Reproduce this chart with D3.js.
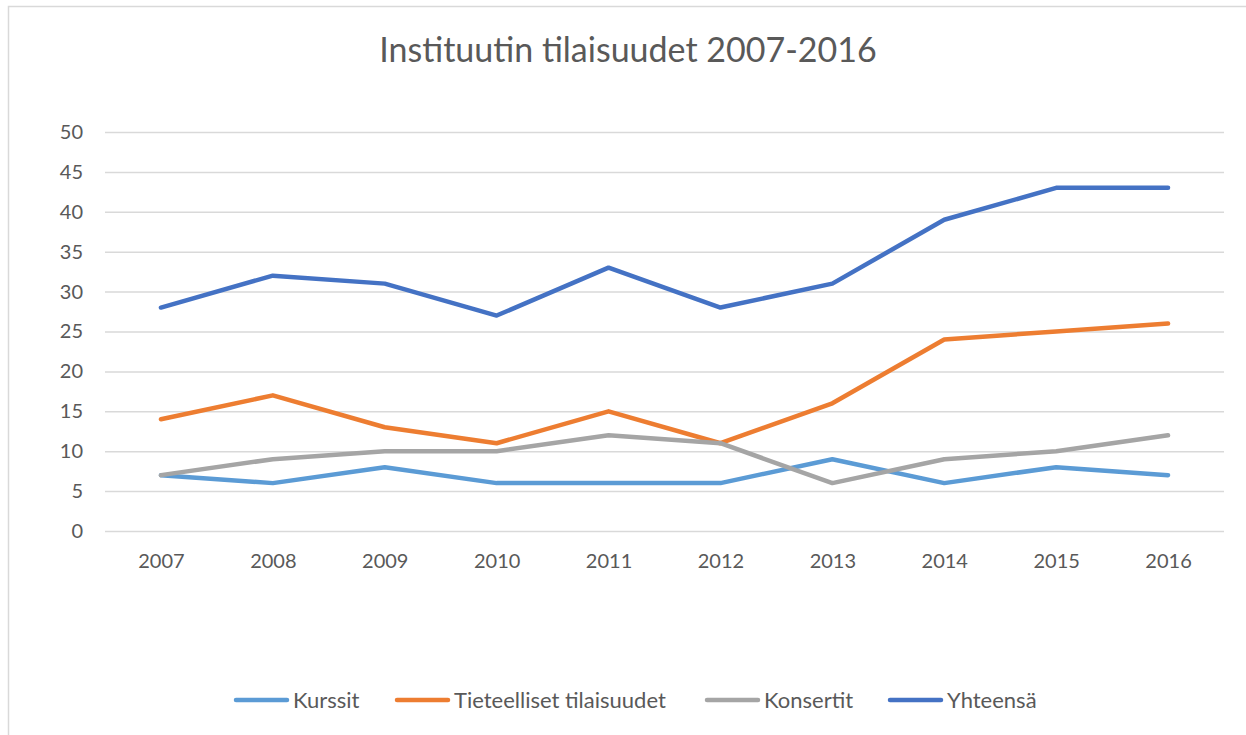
<!DOCTYPE html>
<html><head><meta charset="utf-8">
<script src="https://cdn.jsdelivr.net/npm/d3@7"></script>
<style>body{margin:0;background:#fff}svg{display:block}text{font-family:Lato,"Open Sans",sans-serif;fill:#595959}</style>
</head><body>
<script>
const years = ["2007","2008","2009","2010","2011","2012","2013","2014","2015","2016"];
const kurssit = [7,6,8,6,6,6,9,6,8,7];
const tieteelliset = [14,17,13,11,15,11,16,24,25,26];
const konsertit = [7,9,10,10,12,11,6,9,10,12];
const yhteensa = [28,32,31,27,33,28,31,39,43,43];
const yTicks = [0,5,10,15,20,25,30,35,40,45,50];
const seriesNames = ["Kurssit","Tieteelliset tilaisuudet","Konsertit","Yhteensä"];
const seriesColors = ["#5B9BD5","#ED7D31","#A5A5A5","#4472C4"];
const title = "Instituutin tilaisuudet 2007-2016";

const series = [kurssit, tieteelliset, konsertit, yhteensa].map((v,i)=>({name:seriesNames[i], color:seriesColors[i], values:v}));

const W=1246,H=735;
const svg=d3.select("body").append("svg").attr("width",W).attr("height",H);
svg.append("rect").attr("x",8.5).attr("y",6.5).attr("width",W+10).attr("height",H+10).attr("fill","#fff").attr("stroke","#d9d9d9").attr("stroke-width",1.5);

const x=d3.scalePoint().domain(years).range([105,1224]).padding(0.5);
const y=d3.scaleLinear().domain([0,50]).range([531,132]);

svg.append("text").attr("x",628).attr("y",62).attr("text-anchor","middle").style("font-size","34px").text(title);

const gy=svg.append("g").attr("transform","translate(105,0)")
 .call(d3.axisLeft(y).tickValues(yTicks).tickSize(-1119).tickPadding(22));
gy.select(".domain").remove();
gy.selectAll(".tick line").attr("stroke","#d9d9d9").attr("stroke-width",1.5);
gy.selectAll(".tick text").style("font-size","20px").attr("fill","#595959").style("font-family","Lato");

const gx=svg.append("g").attr("transform","translate(0,531)")
 .call(d3.axisBottom(x).tickSize(0).tickPadding(23));
gx.select(".domain").remove();
gx.selectAll(".tick text").style("font-size","20px").attr("fill","#595959").style("font-family","Lato");

const line=d3.line().x((d,i)=>x(years[i])).y(d=>y(d));
svg.selectAll("path.series").data(series).join("path").attr("class","series")
 .attr("d",d=>line(d.values)).attr("fill","none").attr("stroke",d=>d.color)
 .attr("stroke-width",4.5).attr("stroke-linecap","round").attr("stroke-linejoin","round");

const legendX=[236,397,707,890];
const lg=svg.selectAll("g.leg").data(series).join("g").attr("class","leg")
 .attr("transform",(d,i)=>`translate(${legendX[i]},700)`);
lg.append("line").attr("x1",0).attr("x2",51).attr("y1",0).attr("y2",0).attr("stroke",d=>d.color).attr("stroke-width",4.5).attr("stroke-linecap","round");
lg.append("text").attr("x",57).attr("y",7.5).style("font-size","22px").text(d=>d.name);
</script>
</body></html>
